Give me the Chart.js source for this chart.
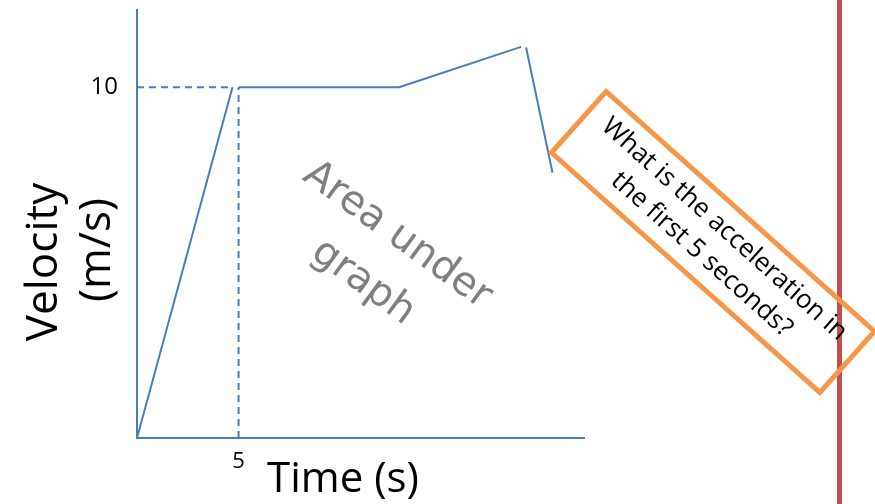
<!DOCTYPE html>
<html>
<head>
<meta charset="utf-8">
<script src="https://cdn.jsdelivr.net/npm/chart.js@4"></script>
<style>
  html, body { margin: 0; padding: 0; background: #ffffff; }
  #wrap { position: relative; width: 875px; height: 504px; }
</style>
</head>
<body>
<div id="wrap"><canvas id="c" width="875" height="504"></canvas></div>
<script>
// ---- data ----
const TIME      = [0, 4.7, 4.85, 5, 12.9, 18.9, 19.0, 19.15, 20.45];
const VELOCITY  = [0, 10,  null, 10, 10,  11.15, null, 11.13, 7.56];
const GUIDE_H_X = [0, 4.7];
const GUIDE_H_Y = [10, 10];
const GUIDE_V_X = [5, 5];
const GUIDE_V_Y = [0, 10];
const X_TICKS   = [5];
const Y_TICKS   = [10];
const X_TITLE   = 'Time (s)';
const Y_TITLE   = ['Velocity', '(m/s)'];
const NOTE_AREA = ['Area under', 'graph'];
const NOTE_BOX  = ['What is the acceleration in', 'the first 5 seconds?'];

const BLUE = '#4A7EBB';
const pts = (xs, ys) => xs.map((x, i) => ({ x: x, y: ys[i] }));

const overlay = {
  id: 'overlay',
  afterDraw(chart) {
    const ctx = chart.ctx;
    ctx.save();
    // red vertical line
    ctx.strokeStyle = '#C0504D';
    ctx.lineWidth = 5;
    ctx.beginPath(); ctx.moveTo(839.5, 0); ctx.lineTo(839.5, 504); ctx.stroke();

    // axis titles
    ctx.fillStyle = '#000';
    ctx.textAlign = 'center';
    ctx.textBaseline = 'alphabetic';
    ctx.font = '42px "Open Sans"';
    ctx.fillText(X_TITLE, 343, 492);

    ctx.font = '44px "Open Sans"';
    ctx.save(); ctx.translate(57, 262); ctx.rotate(-Math.PI / 2);
    ctx.fillText(Y_TITLE[0], 0, 0); ctx.restore();
    ctx.save(); ctx.translate(110, 250); ctx.rotate(-Math.PI / 2);
    ctx.fillText(Y_TITLE[1], 0, 0); ctx.restore();

    // "Area under graph"
    ctx.save();
    ctx.translate(380, 259); ctx.rotate(36 * Math.PI / 180);
    ctx.fillStyle = '#7F7F7F';
    ctx.font = '40px "DejaVu Sans"';
    ctx.textBaseline = 'middle';
    ctx.fillText(NOTE_AREA[0], 0, -29);
    ctx.fillText(NOTE_AREA[1], 0, 29);
    ctx.restore();

    // orange rotated box
    ctx.save();
    ctx.translate(713, 242); ctx.rotate(41.8 * Math.PI / 180);
    ctx.strokeStyle = '#F79646';
    ctx.lineWidth = 5;
    ctx.strokeRect(-180, -41, 360, 82);
    ctx.fillStyle = '#000';
    ctx.font = '26px "Open Sans"';
    ctx.textBaseline = 'middle';
    ctx.fillText(NOTE_BOX[0], 0, -17);
    ctx.fillText(NOTE_BOX[1], 0, 17);
    ctx.restore();
    ctx.restore();
  }
};

new Chart(document.getElementById('c'), {
  type: 'line',
  data: {
    datasets: [
      { data: pts(TIME, VELOCITY), borderColor: BLUE, borderWidth: 2, pointRadius: 0, spanGaps: false, tension: 0, borderCapStyle: 'butt' },
      { data: pts(GUIDE_H_X, GUIDE_H_Y), borderColor: BLUE, borderWidth: 2, borderDash: [7, 5], pointRadius: 0 },
      { data: pts(GUIDE_V_X, GUIDE_V_Y), borderColor: BLUE, borderWidth: 2, borderDash: [7, 5], pointRadius: 0 }
    ]
  },
  options: {
    responsive: false,
    animation: false,
    layout: { padding: { left: 0, right: 291, top: 10, bottom: 0 } },
    plugins: { legend: { display: false }, tooltip: { enabled: false } },
    scales: {
      x: {
        type: 'linear', min: 0, max: 22,
        grid: { display: false },
        border: { display: true, color: BLUE, width: 2 },
        ticks: { color: '#000', font: { family: 'Open Sans', size: 22 }, padding: 3, maxRotation: 0 },
        afterBuildTicks: s => { s.ticks = X_TICKS.map(v => ({ value: v })); },
        afterFit: s => { s.height = 66; s.paddingLeft = 0; s.paddingRight = 0; }
      },
      y: {
        type: 'linear', min: 0, max: 12.2,
        grid: { display: false },
        border: { display: true, color: BLUE, width: 2 },
        ticks: { color: '#000', font: { family: 'Open Sans', size: 24 }, padding: 11 },
        afterBuildTicks: s => { s.ticks = Y_TICKS.map(v => ({ value: v })); },
        afterFit: s => { s.width = 137; s.paddingTop = 0; s.paddingBottom = 0; }
      }
    }
  },
  plugins: [overlay]
});
</script>
</body>
</html>
